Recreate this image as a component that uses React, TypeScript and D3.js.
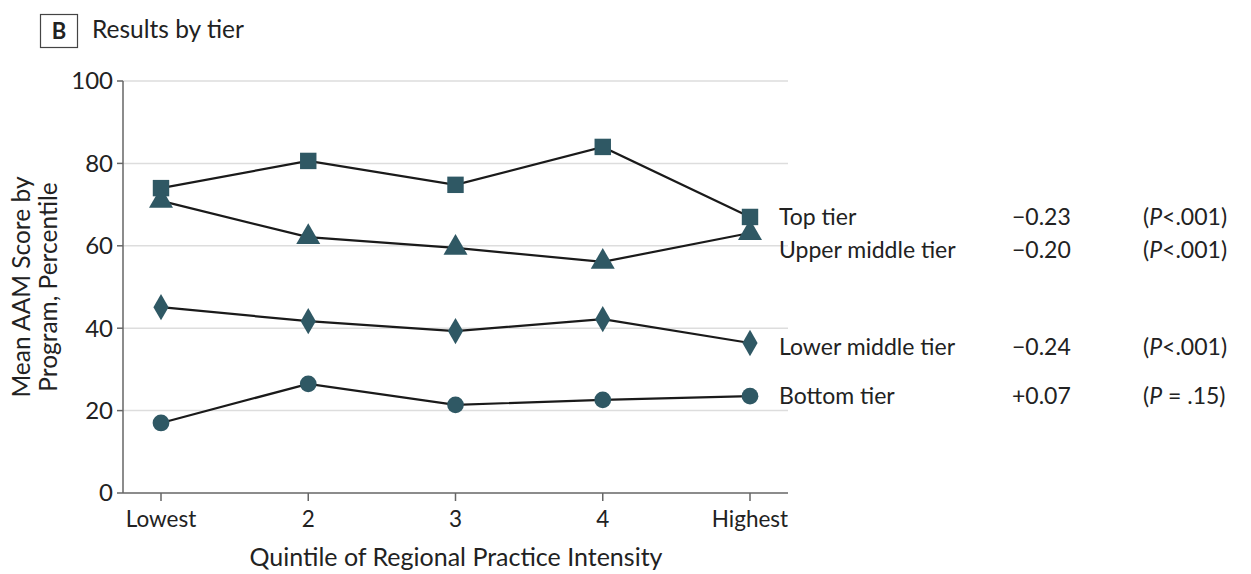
import React from 'react';
import * as d3 from 'd3';

const categories = ['Lowest', '2', '3', '4', 'Highest'];
const tierNames = ['Top tier', 'Upper middle tier', 'Lower middle tier', 'Bottom tier'];
const topTier = [74.0, 80.6, 74.8, 84.0, 67.0];
const upperMiddleTier = [70.9, 62.1, 59.5, 56.1, 63.1];
const lowerMiddleTier = [45.1, 41.7, 39.3, 42.2, 36.4];
const bottomTier = [17.0, 26.5, 21.4, 22.6, 23.5];
const slopes = ['−0.23', '−0.20', '−0.24', '+0.07'];
const pValues = ['<.001', '<.001', '<.001', ' = .15'];
const yTicks = [0, 20, 40, 60, 80, 100];

const FONT = 'Lato, "Noto Sans", sans-serif';
const MARK = '#2f5864';

const width = 1251;
const height = 574;
const margin = { left: 123, right: 463, top: 81, bottom: 81 };

const App: React.FC = () => {
  const x = d3
    .scalePoint<string>()
    .domain(categories)
    .range([161, 750]);
  const y = d3
    .scaleLinear()
    .domain([0, 100])
    .range([height - margin.bottom, margin.top]);
  const xEnd = width - margin.right;

  const series = [topTier, upperMiddleTier, lowerMiddleTier, bottomTier];
  const shapes = [d3.symbolSquare, d3.symbolTriangle, d3.symbolDiamond, d3.symbolCircle];
  const sizes = [270, 250, 200, 220];
  // small vertical nudges so labels don't collide
  const labelDy = [8, 25, 12, 8];

  const line = d3
    .line<number>()
    .x((_, i) => x(categories[i]) as number)
    .y((d) => y(d));

  return (
    <svg width={width} height={height} style={{ position: 'absolute', left: 0, top: 0, fontFamily: FONT }}>
      <rect width={width} height={height} fill="#fff" />
      {/* panel title */}
      <rect x={40.5} y={14.5} width={37} height={33} fill="none" stroke="#444" strokeWidth={1.2} />
      <text x={59} y={39} textAnchor="middle" fontSize={22} fontWeight={700} fill="#222">B</text>
      <text x={92} y={38} fontSize={24.5} fill="#222">Results by tier</text>

      {/* gridlines */}
      {yTicks.filter((t) => t > 0).map((t) => (
        <line key={t} x1={margin.left} x2={xEnd} y1={y(t)} y2={y(t)} stroke="#ddd" strokeWidth={1.5} />
      ))}

      {/* axes */}
      <line x1={margin.left} x2={margin.left} y1={y(100)} y2={y(0)} stroke="#666" strokeWidth={1.5} />
      <line x1={margin.left} x2={xEnd} y1={y(0)} y2={y(0)} stroke="#666" strokeWidth={1.5} />
      {yTicks.map((t) => (
        <g key={t}>
          <line x1={margin.left - 6} x2={margin.left} y1={y(t)} y2={y(t)} stroke="#666" strokeWidth={1.5} />
          <text x={margin.left - 10} y={y(t)} dy="0.35em" textAnchor="end" fontSize={24} fill="#222">{t}</text>
        </g>
      ))}
      {categories.map((c) => (
        <g key={c}>
          <line x1={x(c)} x2={x(c)} y1={y(0)} y2={y(0) + 8} stroke="#666" strokeWidth={1.5} />
          <text x={x(c)} y={y(0) + 34} textAnchor="middle" fontSize={22.5} fill="#222">{c}</text>
        </g>
      ))}
      <text x={456} y={566} textAnchor="middle" fontSize={25} fill="#222">
        Quintile of Regional Practice Intensity
      </text>
      <g transform={`translate(0, ${(y(0) + y(100)) / 2})`}>
        <text transform="rotate(-90)" x={0} y={30} textAnchor="middle" fontSize={24.5} fill="#222">Mean AAM Score by</text>
        <text transform="rotate(-90)" x={0} y={57} textAnchor="middle" fontSize={24.5} fill="#222">Program, Percentile</text>
      </g>

      {/* lines and markers */}
      {series.map((s, si) => (
        <g key={si}>
          <path d={line(s) || ''} fill="none" stroke="#1a1a1a" strokeWidth={2.2} />
          {s.map((v, i) => (
            <path
              key={i}
              d={d3.symbol().type(shapes[si]).size(sizes[si])() || ''}
              transform={`translate(${x(categories[i])}, ${y(v)})`}
              fill={MARK}
            />
          ))}
        </g>
      ))}

      {/* right labels */}
      {series.map((s, si) => {
        const ly = y(s[s.length - 1]) + labelDy[si];
        return (
          <g key={si} fontSize={23} fill="#222">
            <text x={779} y={ly}>{tierNames[si]}</text>
            <text x={1012} y={ly}>{slopes[si]}</text>
            <text x={1143} y={ly}>
              (<tspan fontStyle="italic">P</tspan>{pValues[si]})
            </text>
          </g>
        );
      })}
    </svg>
  );
};

export default App;
